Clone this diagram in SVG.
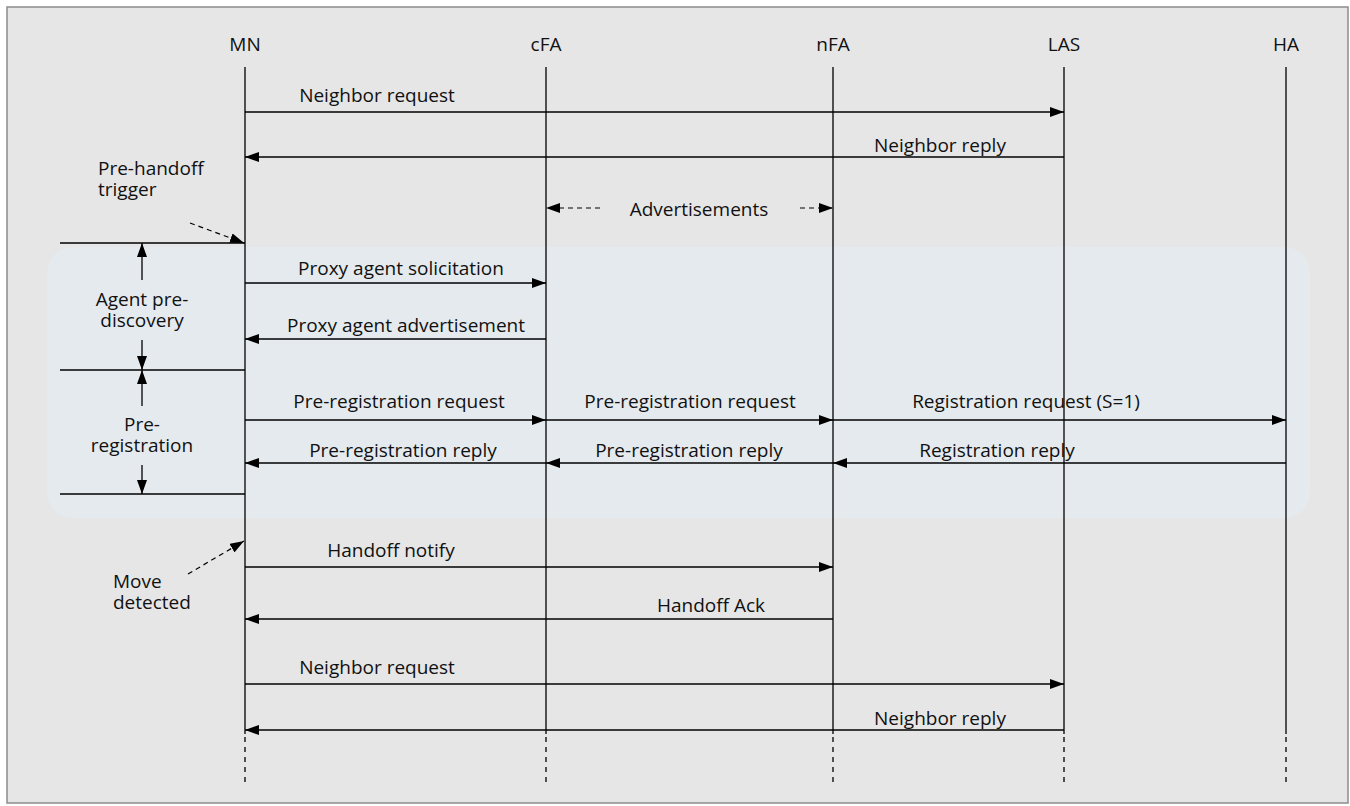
<svg xmlns="http://www.w3.org/2000/svg" width="1350" height="806" viewBox="0 0 1350 806">
<defs>
<marker id="ah" viewBox="0 0 14 10" refX="14" refY="5" markerWidth="14" markerHeight="10" markerUnits="userSpaceOnUse" orient="auto-start-reverse">
<path d="M0,0 L14,5 L0,10 z" fill="#000"/>
</marker>
<style>
text{font-family:"Open Sans","Noto Sans","Liberation Sans",sans-serif;font-size:19px;fill:#111}
.c{text-anchor:middle}
.ll{stroke:#000;stroke-width:1.3;fill:none}
.lld{stroke:#000;stroke-width:1.3;stroke-dasharray:5,5;fill:none}
.msg{stroke:#000;stroke-width:1.3;fill:none;marker-end:url(#ah)}
.dash{stroke:#000;stroke-width:1.2;stroke-dasharray:5,4;fill:none;marker-end:url(#ah)}
.sep{stroke:#000;stroke-width:1.3}
</style>
</defs>
<rect x="0" y="0" width="1350" height="806" fill="#fff"/>
<rect x="7" y="7" width="1341" height="796" fill="#e6e6e6" stroke="#8c8c8c" stroke-width="1.5"/>
<rect x="47" y="247" width="1263" height="271" rx="26" fill="#e5eaee"/>

<g id="MN"><text class="c" x="245" y="51">MN</text><line class="ll" x1="245" y1="67" x2="245" y2="734"/><line class="lld" x1="245" y1="737" x2="245" y2="782"/></g>
<g id="cFA"><text class="c" x="546" y="51">cFA</text><line class="ll" x1="546" y1="67" x2="546" y2="734"/><line class="lld" x1="546" y1="737" x2="546" y2="782"/></g>
<g id="nFA"><text class="c" x="833" y="51">nFA</text><line class="ll" x1="833" y1="67" x2="833" y2="734"/><line class="lld" x1="833" y1="737" x2="833" y2="782"/></g>
<g id="LAS"><text class="c" x="1064" y="51">LAS</text><line class="ll" x1="1064" y1="67" x2="1064" y2="734"/><line class="lld" x1="1064" y1="737" x2="1064" y2="782"/></g>
<g id="HA"><text class="c" x="1286" y="51">HA</text><line class="ll" x1="1286" y1="67" x2="1286" y2="734"/><line class="lld" x1="1286" y1="737" x2="1286" y2="782"/></g>

<g id="phases">
<text x="98" y="175">Pre-handoff</text>
<text x="98" y="196">trigger</text>
<line class="sep" x1="60" y1="243" x2="245" y2="243"/>
<line class="sep" x1="60" y1="370" x2="245" y2="370"/>
<line class="sep" x1="60" y1="494" x2="245" y2="494"/>
<text class="c" x="142" y="306">Agent pre-</text>
<text class="c" x="142" y="327">discovery</text>
<text class="c" x="142" y="431">Pre-</text>
<text class="c" x="142" y="452">registration</text>
<text x="113" y="588">Move</text>
<text x="113" y="609">detected</text>
</g>

<g id="connectors">
<line class="msg" x1="245" y1="112" x2="1064" y2="112"/>
<text class="c" x="377" y="102">Neighbor request</text>
<line class="msg" x1="1064" y1="157" x2="245" y2="157"/>
<text class="c" x="940" y="152">Neighbor reply</text>
<line class="dash" x1="600" y1="208" x2="546" y2="208"/>
<line class="dash" x1="800" y1="208" x2="833" y2="208"/>
<text class="c" x="699" y="216">Advertisements</text>
<line class="dash" x1="190" y1="223" x2="244" y2="243"/>
<line class="msg" x1="142" y1="280" x2="142" y2="243"/>
<line class="msg" x1="142" y1="340" x2="142" y2="370"/>
<line class="msg" x1="142" y1="406" x2="142" y2="370"/>
<line class="msg" x1="142" y1="465" x2="142" y2="494"/>
<line class="msg" x1="245" y1="283" x2="546" y2="283"/>
<text class="c" x="401" y="275">Proxy agent solicitation</text>
<line class="msg" x1="546" y1="339" x2="245" y2="339"/>
<text class="c" x="406" y="332">Proxy agent advertisement</text>
<line class="msg" x1="245" y1="420" x2="546" y2="420"/>
<text class="c" x="399" y="408">Pre-registration request</text>
<line class="msg" x1="546" y1="420" x2="833" y2="420"/>
<text class="c" x="690" y="408">Pre-registration request</text>
<line class="msg" x1="833" y1="420" x2="1286" y2="420"/>
<text class="c" x="1026" y="408">Registration request (S=1)</text>
<line class="msg" x1="546" y1="463" x2="245" y2="463"/>
<text class="c" x="403" y="457">Pre-registration reply</text>
<line class="msg" x1="833" y1="463" x2="546" y2="463"/>
<text class="c" x="689" y="457">Pre-registration reply</text>
<line class="msg" x1="1286" y1="463" x2="833" y2="463"/>
<text class="c" x="997" y="457">Registration reply</text>
<line class="dash" x1="188" y1="574" x2="244" y2="541"/>
<line class="msg" x1="245" y1="567" x2="833" y2="567"/>
<text class="c" x="391" y="557">Handoff notify</text>
<line class="msg" x1="833" y1="619" x2="245" y2="619"/>
<text class="c" x="711" y="612">Handoff Ack</text>
<line class="msg" x1="245" y1="684" x2="1064" y2="684"/>
<text class="c" x="377" y="674">Neighbor request</text>
<line class="msg" x1="1064" y1="730" x2="245" y2="730"/>
<text class="c" x="940" y="725">Neighbor reply</text>
</g>
</svg>
